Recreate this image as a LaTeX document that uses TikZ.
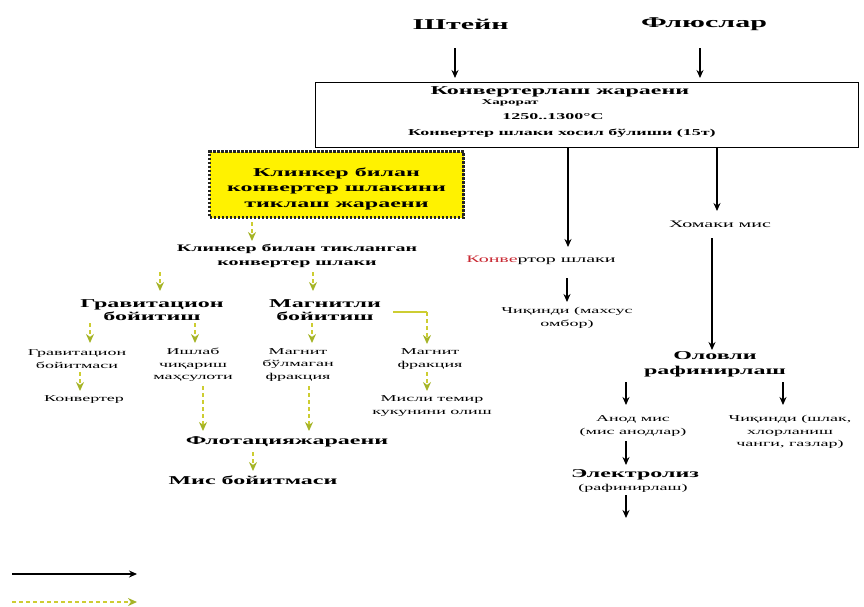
\documentclass[tikz,border=0pt]{standalone}
\usepackage{fontspec}
\setmainfont{Liberation Serif}[FakeStretch=2.0]
\usetikzlibrary{arrows.meta}
\definecolor{yarrow}{RGB}{205,205,50}
\definecolor{yhead}{RGB}{165,180,40}
\definecolor{spell}{RGB}{200,40,50}
\begin{document}
\begin{tikzpicture}[x=1pt,y=-1pt,
 every node/.style={inner sep=0pt, align=center},
 hdr/.style={font=\fontsize{15}{18}\selectfont\bfseries},
 bt/.style={font=\fontsize{12}{15}\selectfont\bfseries},
 bt2/.style={font=\fontsize{12}{13}\selectfont\bfseries},
 st/.style={font=\fontsize{9}{12.5}\selectfont},
 sb/.style={font=\fontsize{9}{14}\selectfont\bfseries},
 mt/.style={font=\fontsize{10}{13}\selectfont},
 arr/.style={draw=black, line width=1.3pt, -{Stealth[length=8pt,width=7pt]}},
 yarr/.style={draw=yarrow, line width=2.5pt, dash pattern=on 4pt off 3pt, -{Stealth[length=9pt,width=8pt,color=yhead,fill=yhead]}},
 yline/.style={draw=yarrow, line width=1.2pt},
 ybox/.style={draw=black!85, fill=yellow, line width=2.5pt, dash pattern=on 2.5pt off 1.5pt, minimum width=254pt, minimum height=66pt},
 pbox/.style={draw=black, line width=1pt, minimum width=543pt, minimum height=65pt},
]
\useasboundingbox (0,0) rectangle (864,606);
% top inputs
\node[hdr] (steyn) at (461,24) {Штейн};
\node[hdr] (flyus) at (704,24) {Флюслар};
% converter box
\node[pbox] (conv) at (586.5,114.5) {};
\node[bt] (t1) at (560,92) {Конвертерлаш жараени};
\node[font=\fontsize{7.5}{9}\selectfont\bfseries] (t2) at (510,103) {Харорат};
\node[sb] (t3) at (553,117) {1250..1300°C};
\node[sb] (t4) at (562,133) {Конвертер шлаки хосил бўлиши (15т)};
\coordinate (a1s) at (455,48); \coordinate (a1e) at (455,78);
\coordinate (a2s) at (700,48); \coordinate (a2e) at (700,78);
\draw[arr] (a1s) -- (a1e);
\draw[arr] (a2s) -- (a2e);
% yellow box
\node[ybox, font=\fontsize{12}{15.5}\selectfont\bfseries] (yb) at (336.5,184.5) {\rule{0pt}{17pt}Клинкер билан\\конвертер шлакини\\тиклаш жараени};
\node[font=\fontsize{10}{14}\selectfont\bfseries] (kt) at (297,256) {Клинкер билан тикланган\\конвертер шлаки};
\coordinate (y1s) at (252,222); \coordinate (y1e) at (252,241);
\draw[yarr] (y1s) -- (y1e);
\node[bt2] (grav) at (152,310) {Гравитацион\\бойитиш};
\node[bt2] (magn) at (325,310) {Магнитли\\бойитиш};
\coordinate (y2s) at (160,272); \coordinate (y2e) at (160,291);
\coordinate (y3s) at (313,272); \coordinate (y3e) at (313,291);
\draw[yarr] (y2s) -- (y2e);
\draw[yarr] (y3s) -- (y3e);
\node[st] (gb) at (77,359) {Гравитацион\\бойитмаси};
\node[st] (ich) at (193,365) {Ишлаб\\чиқариш\\маҳсулоти};
\node[st] (mbf) at (298,365) {Магнит\\бўлмаган\\фракция};
\node[st] (mf) at (430,359) {Магнит\\фракция};
\coordinate (y4s) at (90,323); \coordinate (y4e) at (90,343);
\coordinate (y5s) at (195,323); \coordinate (y5e) at (195,343);
\coordinate (y6s) at (312,323); \coordinate (y6e) at (312,343);
\coordinate (y7s) at (393,312); \coordinate (y7m) at (427,312); \coordinate (y7e) at (427,344);
\draw[yarr] (y4s) -- (y4e);
\draw[yarr] (y5s) -- (y5e);
\draw[yarr] (y6s) -- (y6e);
\draw[yline] (y7s) -- (y7m);
\draw[yarr] (y7m) -- (y7e);
\node[st] (cv2) at (84,400) {Конвертер};
\node[st] (mtk) at (432,406) {Мисли темир\\кукунини олиш};
\coordinate (y8s) at (80,372); \coordinate (y8e) at (80,391);
\coordinate (y9s) at (427,372); \coordinate (y9e) at (427,391);
\draw[yarr] (y8s) -- (y8e);
\draw[yarr] (y9s) -- (y9e);
\node[bt] (flot) at (287,442) {Флотацияжараени};
\coordinate (y10s) at (203,386); \coordinate (y10e) at (203,431);
\coordinate (y11s) at (309,386); \coordinate (y11e) at (309,431);
\draw[yarr] (y10s) -- (y10e);
\draw[yarr] (y11s) -- (y11e);
\coordinate (y12s) at (253,452); \coordinate (y12e) at (253,471);
\draw[yarr] (y12s) -- (y12e);
\node[bt] (mb) at (253,480) {Мис бойитмаси};
% right branch
\coordinate (b1s) at (568,147); \coordinate (b1e) at (568,247);
\draw[arr] (b1s) -- (b1e);
\node[mt] (ksh) at (541,260) {\textcolor{spell}{Конве}ртор шлаки};
\coordinate (b2s) at (567,278); \coordinate (b2e) at (567,302);
\draw[arr] (b2s) -- (b2e);
\node[st] (chq1) at (567,318) {Чиқинди (махсус\\омбор)};
\coordinate (b3s) at (717,147); \coordinate (b3e) at (717,211);
\draw[arr] (b3s) -- (b3e);
\node[mt] (hm) at (720,224) {Хомаки мис};
\coordinate (b4s) at (712,238); \coordinate (b4e) at (712,350);
\draw[arr] (b4s) -- (b4e);
\node[bt] (olov) at (715,364) {Оловли\\рафинирлаш};
\coordinate (b5s) at (626,382); \coordinate (b5e) at (626,405);
\coordinate (b6s) at (783,382); \coordinate (b6e) at (783,405);
\draw[arr] (b5s) -- (b5e);
\draw[arr] (b6s) -- (b6e);
\node[st] (anod) at (633,426) {Анод мис\\(мис анодлар)};
\node[st] (chq2) at (790,432) {Чиқинди (шлак,\\хлорланиш\\чанги, газлар)};
\coordinate (b7s) at (626,441); \coordinate (b7e) at (626,465);
\draw[arr] (b7s) -- (b7e);
\node[bt] (elek) at (635,475) {Электролиз};
\node[st] (rafi) at (633,488) {(рафинирлаш)};
\coordinate (b8s) at (626,495); \coordinate (b8e) at (626,518);
\draw[arr] (b8s) -- (b8e);
% legend
\coordinate (l1s) at (12,574); \coordinate (l1e) at (137,574);
\coordinate (l2s) at (12,602); \coordinate (l2e) at (137,602);
\draw[arr] (l1s) -- (l1e);
\draw[yarr] (l2s) -- (l2e);
\end{tikzpicture}
\end{document}
